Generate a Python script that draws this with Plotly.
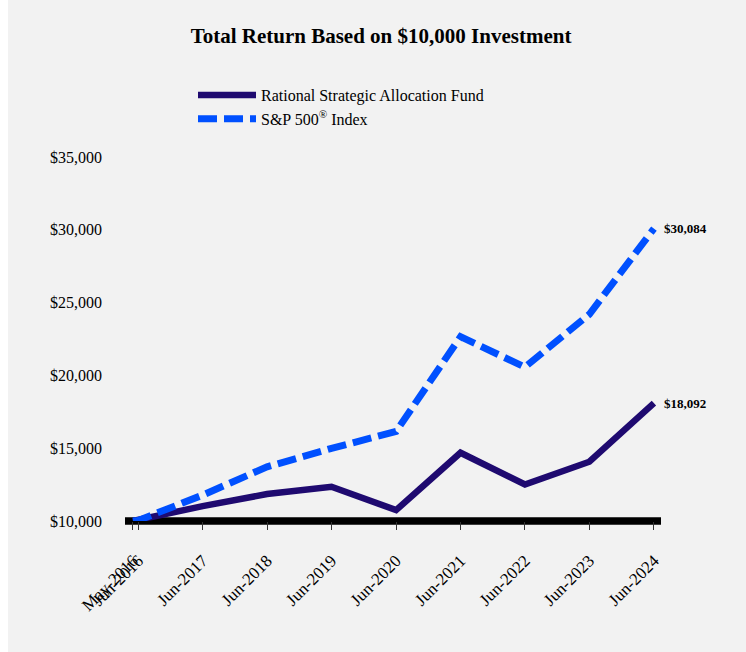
import plotly.graph_objects as go

dates = ["2016-05-31", "2016-06-30", "2017-06-30", "2018-06-30", "2019-06-30",
         "2020-06-30", "2021-06-30", "2022-06-30", "2023-06-30", "2024-06-30"]
tick_labels = ["May-2016", "Jun-2016", "Jun-2017", "Jun-2018", "Jun-2019",
               "Jun-2020", "Jun-2021", "Jun-2022", "Jun-2023", "Jun-2024"]
fund_name = "Rational Strategic Allocation Fund"
fund_values = [10000, 10080, 11020, 11850, 12350, 10750, 14690, 12510, 14070, 18092]
sp_name = "S&P 500<sup>®</sup> Index"
sp_values = [10000, 10040, 11780, 13720, 14990, 16150, 22660, 20570, 24200, 30084]
y_ticks = [10000, 15000, 20000, 25000, 30000, 35000]
y_tick_labels = ["$10,000", "$15,000", "$20,000", "$25,000", "$30,000", "$35,000"]
end_labels = ["$18,092", "$30,084"]

FUND_COLOR = "#1F0A70"
SP_COLOR = "#0050FF"
BG = "#F2F2F2"
FONT = "Liberation Serif, Times New Roman, serif"
Y_MIN, Y_MAX = 10000, 35000
W, H = 738, 652

fig = go.Figure()
fig.add_trace(go.Scatter(x=dates, y=fund_values, mode="lines", name=fund_name,
                         line=dict(color=FUND_COLOR, width=6.5), hoverinfo="skip"))
fig.add_trace(go.Scatter(x=dates, y=sp_values, mode="lines", name=sp_name,
                         line=dict(color=SP_COLOR, width=7, dash="19px,7px"), hoverinfo="skip"))

# end-value labels
for series, lab in ((fund_values, end_labels[0]), (sp_values, end_labels[1])):
    fig.add_annotation(x=dates[-1], y=series[-1], text="<b>" + lab + "</b>",
                       showarrow=False, xanchor="left", yanchor="middle", xshift=8,
                       font=dict(family=FONT, size=13, color="#000"))

# thick baseline along the bottom of the plot area (y = Y_MIN)
fig.add_shape(type="line", xref="paper", yref="paper", x0=0, x1=1, y0=0, y1=0,
              line=dict(color="#000", width=7.5), layer="below")

fig.update_layout(
    width=W, height=H,
    margin=dict(l=117, r=85, t=157, b=131, autoexpand=False),
    paper_bgcolor=BG, plot_bgcolor="rgba(0,0,0,0)",
    font=dict(family=FONT, size=16, color="#000"),
    title=dict(text="<b>Total Return Based on $10,000 Investment</b>",
               x=373 / W, xanchor="center", xref="container",
               y=1 - 36 / H, yanchor="middle", yref="container",
               font=dict(family=FONT, size=21, color="#000")),
    showlegend=True,
    legend=dict(x=(253 - 68) / W, y=1 - 78 / H, xanchor="left", yanchor="top",
                xref="container", yref="container",
                bgcolor="rgba(0,0,0,0)", font=dict(family=FONT, size=16),
                itemwidth=58),
    xaxis=dict(type="date", range=["2016-04-16", "2024-08-09"],
               tickvals=dates, ticktext=tick_labels, tickangle=-45,
               ticks="outside", ticklen=8, tickwidth=1, tickcolor="#333",
               showgrid=False, zeroline=False, showline=False, automargin=False,
               ticklabelstandoff=14, tickfont=dict(family=FONT, size=17)),
    yaxis=dict(range=[Y_MIN, Y_MAX], tickvals=y_ticks, ticktext=y_tick_labels,
               showgrid=False, zeroline=False, showline=False, ticks="", automargin=False,
               ticklabelstandoff=22, tickfont=dict(family=FONT, size=16)),
)

fig.write_html("out.html",
               post_script="document.body.style.margin='0 0 0 8px';")
